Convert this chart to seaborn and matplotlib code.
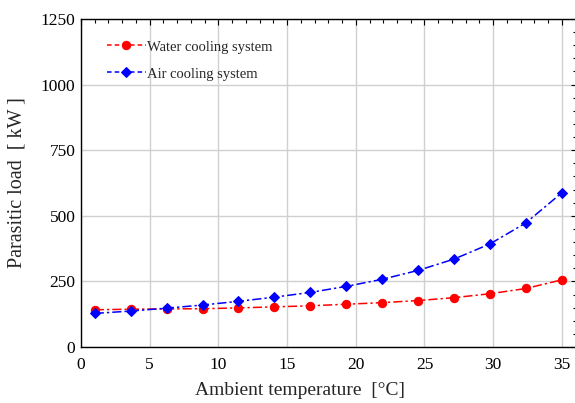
import matplotlib
matplotlib.use("Agg")
import matplotlib.pyplot as plt
import seaborn as sns
import pandas as pd
from matplotlib.ticker import MultipleLocator

temperature = [1.0, 3.62, 6.23, 8.85, 11.46, 14.08, 16.69, 19.31, 21.92, 24.54, 27.15, 29.77, 32.38, 35.0]
water_load = [142, 144, 145, 146, 149, 153, 157, 163, 169, 177, 188, 203, 223, 256]
air_load = [128, 137, 148, 160, 174, 190, 208, 231, 258, 292, 335, 393, 473, 588]
series_names = ["Water cooling system", "Air cooling system"]

df = pd.concat([
    pd.DataFrame({"T": temperature, "P": water_load, "s": series_names[0]}),
    pd.DataFrame({"T": temperature, "P": air_load, "s": series_names[1]}),
])

sns.set_style("white")
plt.rcParams['font.family'] = ['Liberation Serif', 'DejaVu Serif']

fig = plt.figure(figsize=(5.75, 4.03), dpi=100)
# right spine sits just outside the image, as in the reference
ax = fig.add_axes([81 / 575, 1 - 347 / 403, (577 - 81) / 575, (347 - 19) / 403])

sns.lineplot(data=df, x="T", y="P", hue="s", style="s",
             palette={series_names[0]: "#ff0000", series_names[1]: "#0000ff"},
             markers={series_names[0]: "o", series_names[1]: "D"},
             dashes={series_names[0]: (6, 2, 1.5, 2), series_names[1]: (6, 2, 1.5, 2)},
             linewidth=1.1, ax=ax, legend=True)
for line in ax.lines:
    if line.get_marker() == "o":
        line.set_markersize(6)
    else:
        line.set_markersize(5)
    line.set_markeredgecolor(line.get_color())

ax.set_xlim(0, 36.1)
ax.set_ylim(0, 1250)
ax.xaxis.set_major_locator(MultipleLocator(5))
ax.xaxis.set_minor_locator(MultipleLocator(1))
ax.yaxis.set_major_locator(MultipleLocator(250))
ax.yaxis.set_minor_locator(MultipleLocator(50))
ax.grid(True, which="major", color="#d0d0d0", linewidth=1.0)
ax.tick_params(which="both", direction="in", top=True, right=True, labelsize=12.5, colors="black")
ax.tick_params(which="major", length=4, width=0.8)
ax.tick_params(which="minor", length=3, width=0.8)
ax.tick_params(axis="x", pad=7)
ax.tick_params(axis="y", pad=4)
for sp in ax.spines.values():
    sp.set_color("black")
    sp.set_linewidth(1.0)

ax.set_xlabel("Ambient temperature  [°C]", fontsize=14, labelpad=10)
ax.xaxis.set_label_coords((300 - 81) / 496, -0.108)
ax.set_ylabel("Parasitic load  [ kW ]", fontsize=14.5, labelpad=10)

handles, labels = ax.get_legend_handles_labels()
for h in handles:
    h.set_dashes((3, 2))
leg = ax.legend(handles, labels, loc="upper left", frameon=False, fontsize=10.5,
                bbox_to_anchor=(0.025, 0.975), handlelength=2.7, handletextpad=0.05,
                labelspacing=0.95)

fig.savefig("out.png", dpi=100)
